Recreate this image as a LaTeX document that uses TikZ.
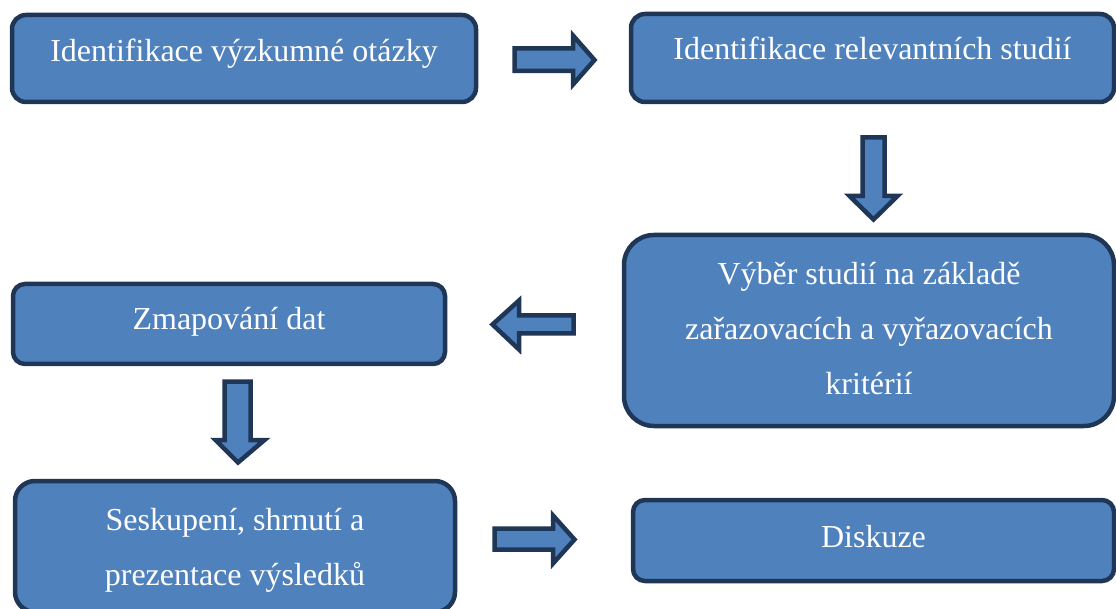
\documentclass[tikz,border=0pt]{standalone}
\usepackage{fontspec}
\setmainfont{Liberation Serif}
\definecolor{boxfill}{HTML}{4F81BD}
\definecolor{boxline}{HTML}{1F3656}
\begin{document}
\begin{tikzpicture}[x=1pt,y=-1pt,
  box/.style={draw=boxline, fill=boxfill, line width=4.5pt, rectangle, rounded corners=#1, inner sep=0pt},
  box/.default=14pt,
  txt/.style={text=white, font=\fontsize{32}{38}\selectfont, anchor=base, inner sep=0pt},
  blockarrow/.style={draw=boxline, fill=boxfill, line width=4.5pt, line join=miter}]
\useasboundingbox (0,0) rectangle (1116,609);
\clip (0,0) rectangle (1116,609);
% boxes
\node[box=14pt, minimum width=464pt, minimum height=87pt] (b1) at (244,58.5) {};
\node[box=14pt, minimum width=483pt, minimum height=88pt] (b2) at (872.5,58) {};
\node[box=30pt, minimum width=490pt, minimum height=191pt] (b3) at (869,330.5) {};
\node[box=12pt, minimum width=432pt, minimum height=80pt] (b4) at (229,324) {};
\node[box=20pt, minimum width=440pt, minimum height=131pt] (b5) at (235,546.5) {};
\node[box=12pt, minimum width=481pt, minimum height=81pt] (b6) at (873.5,540.5) {};
% texts
\node[txt] (t1) at (b1.center |- 0,62) {Identifikace výzkumné otázky};
\node[txt] (t2) at (b2.center |- 0,60) {Identifikace relevantních studií};
\node[txt] (t3a) at (b3.center |- 0,285) {Výběr studií na základě};
\node[txt] (t3b) at (b3.center |- 0,340) {zařazovacích a vyřazovacích};
\node[txt] (t3c) at (b3.center |- 0,395) {kritérií};
\node[txt] (t4) at (b4.center |- 0,330) {Zmapování dat};
\node[txt] (t5a) at (b5.center |- 0,530) {Seskupení, shrnutí a};
\node[txt] (t5b) at (b5.center |- 0,585) {prezentace výsledků};
\node[txt] (t6) at (b6.center |- 0,547) {Diskuze};
% block arrows
\draw[blockarrow] (514.5,48.5) -- (573,48.5) -- (573,35.5) -- (594.5,60) -- (573,84.5) -- (573,71) -- (514.5,71) -- cycle;
\draw[blockarrow] (862.5,137.5) -- (884.5,137.5) -- (884.5,196) -- (897.5,196) -- (873.5,219.5) -- (849.5,196) -- (862.5,196) -- cycle;
\draw[blockarrow] (573.5,315.5) -- (519,315.5) -- (519,300.5) -- (492.5,324.5) -- (519,349.5) -- (519,333.5) -- (573.5,333.5) -- cycle;
\draw[blockarrow] (224.5,381.5) -- (250.5,381.5) -- (250.5,440) -- (264.5,440) -- (238,462.5) -- (215.5,440) -- (224.5,440) -- cycle;
\draw[blockarrow] (494.5,528.5) -- (553,528.5) -- (553,515.5) -- (574.5,539.5) -- (553,563.5) -- (553,549.5) -- (494.5,549.5) -- cycle;
\end{tikzpicture}
\end{document}
